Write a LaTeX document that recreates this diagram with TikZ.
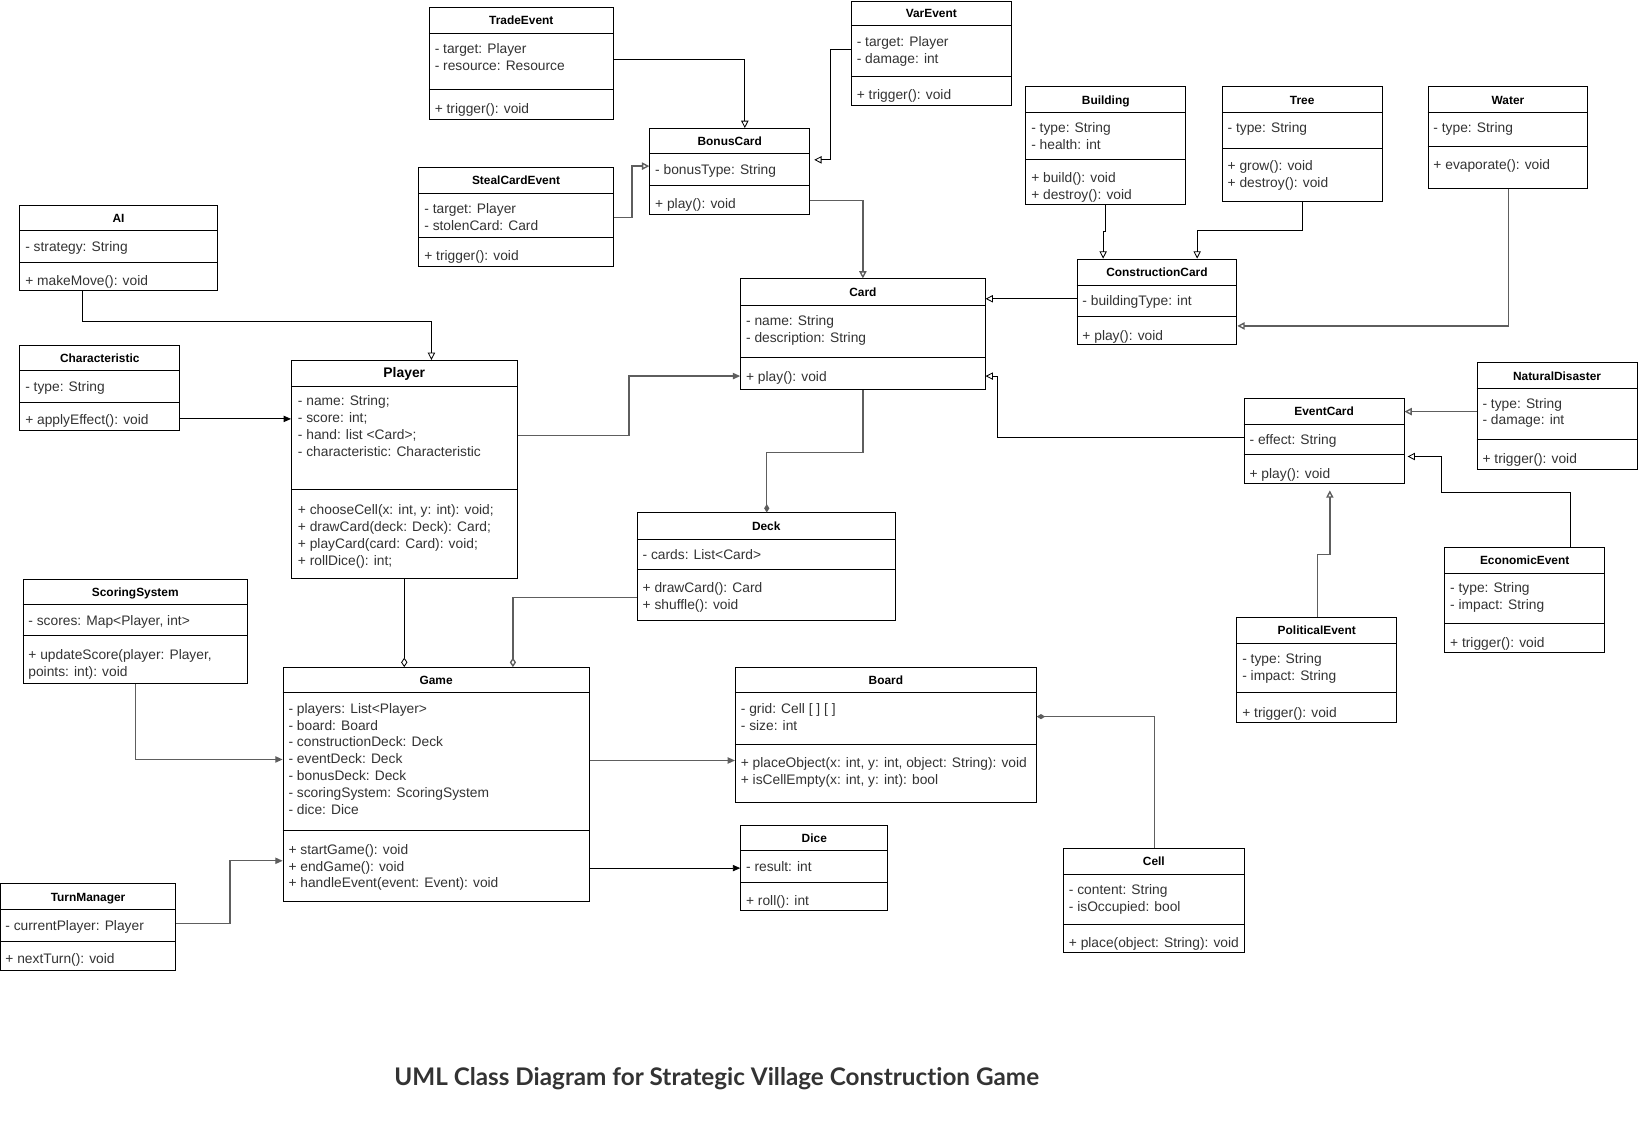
\documentclass[tikz,border=0pt]{standalone}
\usepackage{fontspec}
\setmainfont{Liberation Sans}
\newfontfamily\titlefont[Ligatures={NoCommon,NoRare,NoDiscretionary}]{Lato}
\usetikzlibrary{arrows.meta,fit,calc}
\definecolor{txtgray}{HTML}{333333}
\definecolor{lngray}{HTML}{5E5E5E}
\tikzset{
  umlbox/.style={draw=black, line width=0.9pt, inner sep=0pt, fill=white},
  sepline/.style={draw=black, line width=0.9pt},
  hdr/.style={font=\fontsize{11.4}{13}\selectfont\bfseries, text=black, inner sep=0pt, text height=8.6pt, text depth=0pt},
  mem/.style={font=\fontsize{13.2}{15}\selectfont, text=txtgray, anchor=west, inner sep=0pt, text height=11.2pt, text depth=0pt},
  conn/.style={draw=black, line width=0.8pt},
  conng/.style={draw=lngray, line width=1.3pt},
  genT/.tip={Triangle[open,length=7pt,width=7pt]},
  arrT/.tip={Triangle[length=7pt,width=6pt]},
  compD/.tip={Diamond[length=8pt,width=5pt]},
  aggD/.tip={Diamond[open,length=9pt,width=6pt]},
}
\newcommand\umlclass[8]{%
  \node[umlbox, fit={(#2,#3) (#4,#5)}] (#1) {};
  \draw[sepline] (#1.west |- 0,#6) -- (#1.east |- 0,#6);
  \draw[sepline] (#1.west |- 0,#7) -- (#1.east |- 0,#7);
  \node[hdr] (#1-title) at ({(#2+#4)/2},{(#3+#6)/2}) {#8};
}
\newcommand\members[4]{%
  \foreach \t [count=\i] in {#4} {\node[mem] (#1-\i) at (#2,{#3+(\i-1)*16.2}) {\t};}
}
\begin{document}
\begin{tikzpicture}[x=1pt,y=-1pt]
\fill[white] (0,0) rectangle (1568,1098);
\useasboundingbox (0,0) rectangle (1568,1098);

\umlclass{trade}{411}{7}{587}{114}{32}{86}{TradeEvent}
\members{trade-a}{416}{46}{- target: Player, - resource: Resource}
\members{trade-m}{416}{103}{+ trigger(): void}

\umlclass{var}{815}{1}{968}{101}{24}{73}{VarEvent}
\members{var-a}{820}{39}{- target: Player, - damage: int}
\members{var-m}{820}{90}{+ trigger(): void}

\umlclass{bonus}{622}{123}{775}{205}{147}{178}{BonusCard}
\members{bonus-a}{627}{161}{- bonusType: String}
\members{bonus-m}{627}{194}{+ play(): void}

\umlclass{steal}{401}{160}{587}{255}{185}{227}{StealCardEvent}
\members{steal-a}{406}{199}{- target: Player, - stolenCard: Card}
\members{steal-m}{406}{244}{+ trigger(): void}

\umlclass{ai}{19}{197}{208}{278}{221}{251}{AI}
\members{ai-a}{24}{235}{- strategy: String}
\members{ai-m}{24}{268}{+ makeMove(): void}

\umlclass{bld}{982}{83}{1135}{196}{108}{153}{Building}
\members{bld-a}{987}{121}{- type: String, - health: int}
\members{bld-m}{987}{169}{+ build(): void, + destroy(): void}

\umlclass{tree}{1170}{83}{1323}{193}{108}{142}{Tree}
\members{tree-a}{1175}{121}{- type: String}
\members{tree-m}{1175}{158}{+ grow(): void, + destroy(): void}

\umlclass{water}{1367}{83}{1520}{180}{108}{140}{Water}
\members{water-a}{1372}{121}{- type: String}
\members{water-m}{1372}{157}{+ evaporate(): void}

\umlclass{cc}{1031}{248}{1184}{330}{273}{303}{ConstructionCard}
\members{cc-a}{1036}{287}{- buildingType: int}
\members{cc-m}{1036}{320}{+ play(): void}

\umlclass{card}{709}{267}{943}{373}{292}{342}{Card}
\members{card-a}{714}{306}{- name: String, - description: String}
\members{card-m}{714}{360}{+ play(): void}

\umlclass{char}{19}{331}{172}{412}{355}{385}{Characteristic}
\members{char-a}{24}{369}{- type: String}
\members{char-m}{24}{401}{+ applyEffect(): void}

\umlclass{player}{279}{345}{495}{554}{370}{469}{\fontsize{13.3}{15}\selectfont Player}
\members{player-a}{285}{383}{- name: String;, - score: int;, - hand: list <Card>;, - characteristic: Characteristic}
\members{player-m}{285}{487}{{+ chooseCell(x: int, y: int): void;}, + drawCard(deck: Deck): Card;, + playCard(card: Card): void;, + rollDice(): int;}

\umlclass{nd}{1414}{347}{1567}{449}{372}{421}{NaturalDisaster}
\members{nd-a}{1419}{385}{- type: String, - damage: int}
\members{nd-m}{1419}{438}{+ trigger(): void}

\umlclass{evt}{1191}{381}{1344}{463}{406}{435}{EventCard}
\members{evt-a}{1196}{420}{- effect: String}
\members{evt-m}{1196}{452}{+ play(): void}

\umlclass{deck}{610}{491}{857}{594}{516}{545}{Deck}
\members{deck-a}{615}{530}{- cards: List<Card>}
\members{deck-m}{615}{562}{+ drawCard(): Card, + shuffle(): void}

\umlclass{eco}{1383}{524}{1536}{625}{549}{597}{EconomicEvent}
\members{eco-a}{1388}{562}{- type: String, - impact: String}
\members{eco-m}{1388}{614}{+ trigger(): void}

\umlclass{pol}{1184}{591}{1337}{692}{616}{663}{PoliticalEvent}
\members{pol-a}{1189}{630}{- type: String, - impact: String}
\members{pol-m}{1189}{681}{+ trigger(): void}

\umlclass{ss}{22}{555}{237}{654}{579}{608}{ScoringSystem}
\members{ss-a}{27}{593}{{- scores: Map<Player, int>}}
\members{ss-m}{27}{626}{{+ updateScore(player: Player,}, points: int): void}

\umlclass{game}{271}{639}{564}{863}{663}{795}{Game}
\members{game-a}{276}{677}{- players: List<Player>, - board: Board, - constructionDeck: Deck, - eventDeck: Deck, - bonusDeck: Deck, - scoringSystem: ScoringSystem, - dice: Dice}
\members{game-m}{276}{812}{+ startGame(): void, + endGame(): void, + handleEvent(event: Event): void}

\umlclass{board}{704}{639}{992}{768}{663}{713}{Board}
\members{board-a}{709}{677}{- grid: Cell [ ] [ ], - size: int}
\members{board-m}{709}{729}{{+ placeObject(x: int, y: int, object: String): void}, {+ isCellEmpty(x: int, y: int): bool}}

\umlclass{dice}{709}{790}{850}{872}{814}{845}{Dice}
\members{dice-a}{714}{829}{- result: int}
\members{dice-m}{714}{861}{+ roll(): int}

\umlclass{cell}{1018}{812}{1191}{912}{837}{885}{Cell}
\members{cell-a}{1023}{851}{- content: String, - isOccupied: bool}
\members{cell-m}{1023}{901}{+ place(object: String): void}

\umlclass{tm}{0.6}{846}{168}{929}{871}{901}{TurnManager}
\members{tm-a}{5}{885}{- currentPlayer: Player}
\members{tm-m}{5}{917}{+ nextTurn(): void}

% connectors
\draw[conn,-genT] (trade.east |- 0,57) -| (bonus.north -| 713,0);
\draw[conn,-genT,shorten >=4pt] (var.west |- 0,47) -| (795,100) |- (bonus.east |- 0,153);
\draw[conng,-genT] (steal.east |- 0,208) -| (605,185) |- (bonus.west |- 0,159);
\draw[conng,-genT] (bonus.east |- 0,192) -| (card.north -| 826,0);
\draw[conn,-genT] (ai.south -| 79,0) -- (79,308) -| (player.north -| 413,0);
\draw[conn,-arrT] (char.east |- 0,401) -- (player.west |- 0,401);
\draw[conng,-arrT] (player.east |- 0,417) -| (602,390) |- (card.west |- 0,360);
\draw[conn,-genT] (cc.west |- 0,286) -- (card.east |- 0,286);
\draw[conn,-genT] (bld.south -| 1058,0) -- (1058,222) -- (1056,222) -- (cc.north -| 1056,0);
\draw[conn,-genT] (tree.south -| 1247,0) -- (1247,221) -| (cc.north -| 1146,0);
\draw[conng,-genT] (water.south -| 1444,0) |- (cc.east |- 0,312);
\draw[conn,-genT] (evt.west |- 0,419) -| (955,390) |- (card.east |- 0,360);
\draw[conng,-genT] (nd.west |- 0,394) -- (evt.east |- 0,394);
\draw[conn,-genT,shorten >=3pt] (eco.north -| 1503,0) -- (1503,471) -| (1380,450) |- (evt.east |- 0,437);
\draw[conng,-genT,shorten >=6pt] (pol.north -| 1261,0) -- (1261,531) -| (evt.south -| 1273,0);
\draw[conng,-compD] (card.south -| 826,0) -- (826,433) -| (deck.north -| 734,0);
\draw[conn,-aggD] (player.south -| 387,0) -- (game.north -| 387,0);
\draw[conng,-aggD] (deck.west |- 0,572) -| (game.north -| 491,0);
\draw[conng,-arrT] (ss.south -| 130,0) |- (game.west |- 0,727);
\draw[conng,-arrT] (tm.east |- 0,884) -| (220,850) |- (game.west |- 0,824);
\draw[conng,-arrT] (game.east |- 0,728) -- (board.west |- 0,728);
\draw[conn,-arrT] (game.east |- 0,831) -- (dice.west |- 0,831);
\draw[conng,-compD] (cell.north -| 1105,0) |- (board.east |- 0,686);

\node[font=\titlefont\bfseries, text=txtgray, inner sep=0pt] (title) at (686,1033) {\resizebox{617pt}{!}{UML Class Diagram for Strategic Village Construction Game}};
\end{tikzpicture}
\end{document}
